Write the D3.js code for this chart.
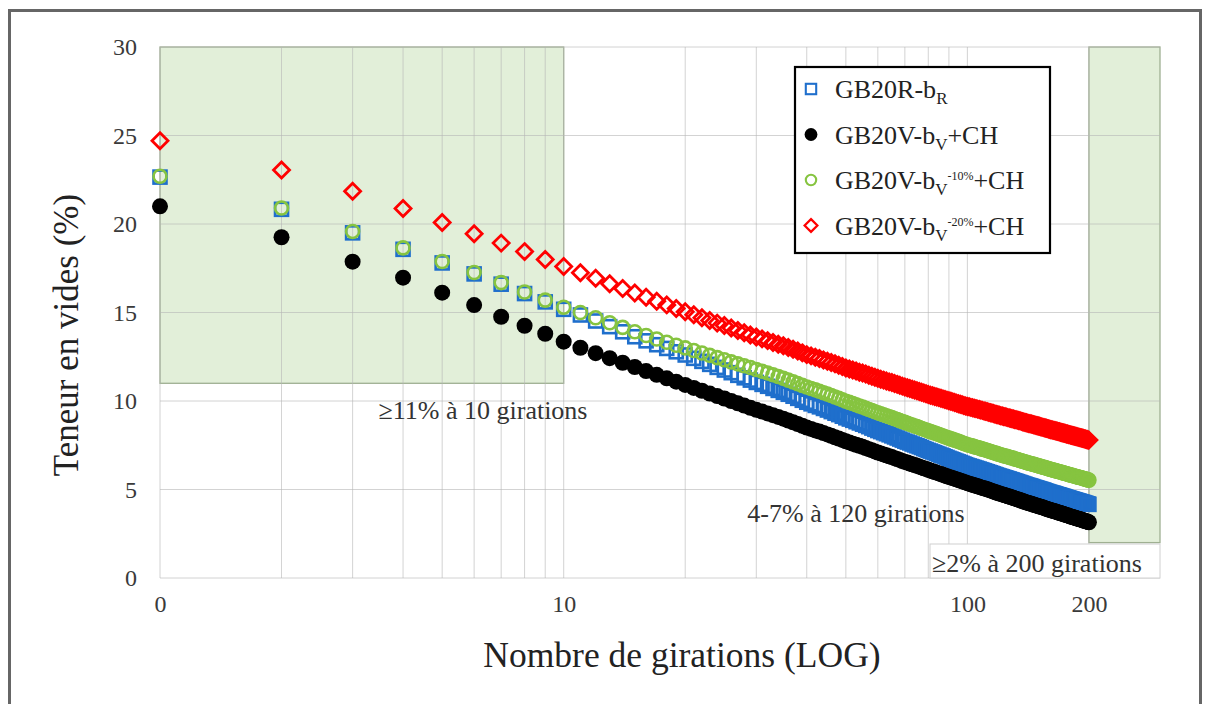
<!DOCTYPE html>
<html>
<head>
<meta charset="utf-8">
<script src="https://cdn.jsdelivr.net/npm/d3@7"></script>
<style>
  body { margin: 0; background: #fff; }
  svg { display: block; }
  svg text { font-family: "Liberation Serif", "Times New Roman", serif !important; }
</style>
</head>
<body>
<svg id="chart" width="1206" height="704"></svg>
<script>
// Gyration counts 1..200 (one point per gyration)
const girations = d3.range(1, 201);

// Void content (%) per gyration, one array per mix
const gbR = [
  22.65, 20.83, 19.50, 18.57, 17.80, 17.18, 16.60, 16.07, 15.60, 15.18,
  14.86, 14.52, 14.20, 13.91, 13.63, 13.40, 13.18, 12.97, 12.78, 12.60,
  12.41, 12.24, 12.07, 11.90, 11.75, 11.60, 11.45, 11.31, 11.18, 11.05,
  10.94, 10.83, 10.71, 10.60, 10.49, 10.38, 10.27, 10.15, 10.04, 9.93,
  9.84, 9.75, 9.67, 9.58, 9.49, 9.40, 9.31, 9.23, 9.14, 9.05,
  8.98, 8.91, 8.83, 8.76, 8.69, 8.62, 8.55, 8.47, 8.40, 8.33,
  8.27, 8.21, 8.15, 8.09, 8.03, 7.97, 7.91, 7.85, 7.79, 7.73,
  7.68, 7.63, 7.57, 7.52, 7.47, 7.42, 7.37, 7.31, 7.26, 7.21,
  7.17, 7.12, 7.08, 7.03, 6.99, 6.94, 6.90, 6.85, 6.81, 6.76,
  6.72, 6.68, 6.64, 6.60, 6.56, 6.52, 6.48, 6.44, 6.40, 6.36,
  6.33, 6.30, 6.27, 6.24, 6.21, 6.18, 6.15, 6.12, 6.09, 6.06,
  6.03, 6.00, 5.97, 5.94, 5.91, 5.88, 5.85, 5.82, 5.79, 5.76,
  5.74, 5.71, 5.69, 5.66, 5.64, 5.61, 5.59, 5.56, 5.54, 5.51,
  5.49, 5.46, 5.44, 5.41, 5.39, 5.36, 5.34, 5.31, 5.29, 5.26,
  5.24, 5.22, 5.20, 5.18, 5.16, 5.13, 5.11, 5.09, 5.07, 5.05,
  5.03, 5.01, 4.99, 4.97, 4.95, 4.92, 4.90, 4.88, 4.86, 4.84,
  4.82, 4.80, 4.79, 4.77, 4.75, 4.73, 4.71, 4.70, 4.68, 4.66,
  4.64, 4.62, 4.61, 4.59, 4.57, 4.55, 4.53, 4.52, 4.50, 4.48,
  4.46, 4.45, 4.43, 4.42, 4.40, 4.38, 4.37, 4.35, 4.34, 4.32,
  4.30, 4.29, 4.27, 4.26, 4.24, 4.22, 4.21, 4.19, 4.18, 4.16
];

const gbV = [
  21.00, 19.25, 17.87, 16.97, 16.12, 15.42, 14.76, 14.25, 13.80, 13.35,
  13.01, 12.70, 12.42, 12.16, 11.92, 11.69, 11.48, 11.28, 11.09, 10.91,
  10.74, 10.58, 10.42, 10.28, 10.14, 10.00, 9.87, 9.74, 9.62, 9.50,
  9.40, 9.30, 9.20, 9.10, 9.00, 8.90, 8.80, 8.70, 8.60, 8.50,
  8.42, 8.34, 8.27, 8.19, 8.11, 8.03, 7.95, 7.88, 7.80, 7.72,
  7.66, 7.59, 7.53, 7.47, 7.41, 7.34, 7.28, 7.22, 7.15, 7.09,
  7.04, 6.98, 6.93, 6.88, 6.83, 6.77, 6.72, 6.67, 6.61, 6.56,
  6.52, 6.47, 6.42, 6.38, 6.34, 6.29, 6.25, 6.20, 6.16, 6.11,
  6.07, 6.03, 5.99, 5.95, 5.91, 5.87, 5.83, 5.79, 5.75, 5.71,
  5.68, 5.64, 5.61, 5.57, 5.54, 5.50, 5.47, 5.43, 5.40, 5.36,
  5.33, 5.30, 5.27, 5.24, 5.21, 5.18, 5.15, 5.12, 5.09, 5.07,
  5.04, 5.01, 4.98, 4.95, 4.92, 4.89, 4.86, 4.83, 4.80, 4.77,
  4.75, 4.72, 4.70, 4.67, 4.65, 4.62, 4.60, 4.57, 4.55, 4.52,
  4.50, 4.47, 4.45, 4.42, 4.40, 4.37, 4.35, 4.32, 4.30, 4.27,
  4.25, 4.23, 4.21, 4.19, 4.17, 4.14, 4.12, 4.10, 4.08, 4.06,
  4.04, 4.02, 4.00, 3.98, 3.96, 3.93, 3.91, 3.89, 3.87, 3.85,
  3.83, 3.81, 3.79, 3.78, 3.76, 3.74, 3.72, 3.70, 3.68, 3.67,
  3.65, 3.63, 3.61, 3.59, 3.57, 3.55, 3.54, 3.52, 3.50, 3.48,
  3.46, 3.45, 3.43, 3.41, 3.40, 3.38, 3.36, 3.35, 3.33, 3.32,
  3.30, 3.28, 3.27, 3.25, 3.23, 3.22, 3.20, 3.18, 3.17, 3.15
];

const gbV10 = [
  22.70, 20.90, 19.58, 18.65, 17.88, 17.26, 16.69, 16.16, 15.70, 15.30,
  15.00, 14.70, 14.42, 14.16, 13.91, 13.70, 13.50, 13.32, 13.15, 13.00,
  12.85, 12.71, 12.58, 12.45, 12.33, 12.21, 12.10, 11.99, 11.89, 11.78,
  11.68, 11.58, 11.48, 11.38, 11.28, 11.18, 11.08, 10.98, 10.88, 10.79,
  10.71, 10.63, 10.55, 10.47, 10.39, 10.31, 10.23, 10.15, 10.07, 9.99,
  9.92, 9.86, 9.79, 9.72, 9.66, 9.59, 9.52, 9.46, 9.39, 9.33,
  9.28, 9.22, 9.17, 9.11, 9.06, 9.00, 8.95, 8.89, 8.84, 8.79,
  8.74, 8.69, 8.64, 8.59, 8.55, 8.50, 8.45, 8.40, 8.36, 8.31,
  8.27, 8.23, 8.19, 8.15, 8.11, 8.06, 8.02, 7.98, 7.94, 7.90,
  7.86, 7.83, 7.79, 7.75, 7.72, 7.68, 7.64, 7.60, 7.57, 7.53,
  7.50, 7.48, 7.45, 7.42, 7.39, 7.37, 7.34, 7.31, 7.28, 7.26,
  7.23, 7.20, 7.17, 7.15, 7.12, 7.09, 7.06, 7.04, 7.01, 6.98,
  6.96, 6.93, 6.91, 6.89, 6.87, 6.85, 6.82, 6.80, 6.78, 6.76,
  6.73, 6.71, 6.69, 6.67, 6.64, 6.62, 6.60, 6.58, 6.55, 6.53,
  6.51, 6.49, 6.47, 6.45, 6.44, 6.42, 6.40, 6.38, 6.36, 6.34,
  6.32, 6.30, 6.28, 6.26, 6.25, 6.23, 6.21, 6.19, 6.17, 6.15,
  6.13, 6.12, 6.10, 6.08, 6.07, 6.05, 6.03, 6.02, 6.00, 5.99,
  5.97, 5.95, 5.94, 5.92, 5.90, 5.89, 5.87, 5.85, 5.84, 5.82,
  5.81, 5.79, 5.78, 5.76, 5.75, 5.73, 5.72, 5.70, 5.69, 5.68,
  5.66, 5.65, 5.63, 5.62, 5.60, 5.59, 5.57, 5.56, 5.54, 5.53
];

const gbV20 = [
  24.70, 23.05, 21.85, 20.88, 20.08, 19.45, 18.92, 18.44, 18.00, 17.60,
  17.25, 16.93, 16.63, 16.36, 16.10, 15.86, 15.64, 15.43, 15.23, 15.04,
  14.87, 14.70, 14.55, 14.40, 14.26, 14.12, 13.98, 13.86, 13.73, 13.61,
  13.51, 13.41, 13.31, 13.21, 13.12, 13.02, 12.92, 12.82, 12.72, 12.62,
  12.55, 12.47, 12.40, 12.32, 12.25, 12.17, 12.10, 12.02, 11.95, 11.87,
  11.81, 11.75, 11.69, 11.63, 11.58, 11.52, 11.46, 11.40, 11.34, 11.28,
  11.23, 11.18, 11.13, 11.08, 11.04, 10.99, 10.94, 10.89, 10.84, 10.79,
  10.75, 10.71, 10.66, 10.62, 10.58, 10.54, 10.50, 10.45, 10.41, 10.37,
  10.33, 10.30, 10.26, 10.23, 10.19, 10.15, 10.12, 10.08, 10.05, 10.01,
  9.98, 9.95, 9.91, 9.88, 9.85, 9.82, 9.79, 9.75, 9.72, 9.69,
  9.67, 9.64, 9.62, 9.59, 9.57, 9.54, 9.52, 9.49, 9.47, 9.44,
  9.42, 9.39, 9.37, 9.34, 9.32, 9.29, 9.27, 9.24, 9.22, 9.19,
  9.17, 9.15, 9.13, 9.11, 9.09, 9.06, 9.04, 9.02, 9.00, 8.98,
  8.96, 8.94, 8.92, 8.90, 8.88, 8.85, 8.83, 8.81, 8.79, 8.77,
  8.75, 8.73, 8.71, 8.70, 8.68, 8.66, 8.64, 8.62, 8.60, 8.59,
  8.57, 8.55, 8.53, 8.51, 8.49, 8.47, 8.46, 8.44, 8.42, 8.40,
  8.38, 8.37, 8.35, 8.34, 8.32, 8.30, 8.29, 8.27, 8.26, 8.24,
  8.22, 8.21, 8.19, 8.18, 8.16, 8.14, 8.13, 8.11, 8.10, 8.08,
  8.07, 8.05, 8.04, 8.02, 8.01, 7.99, 7.98, 7.96, 7.95, 7.93,
  7.92, 7.91, 7.89, 7.88, 7.86, 7.85, 7.83, 7.82, 7.80, 7.79
];

// Axis ticks
const xTickValues = [1, 10, 100, 200];
const xTickLabels = ["0", "10", "100", "200"];
const xGridValues = [1, 2, 3, 4, 5, 6, 7, 8, 9, 10, 20, 30, 40, 50, 60, 70, 80, 90, 100, 200];
const yTickValues = [0, 5, 10, 15, 20, 25, 30];

// Specification windows: [from gyrations, to gyrations, min void, max void]
const specZones = [[1, 10, 11, 30], [200, 300, 2, 30]];

const FONT = "Liberation Serif";
const svg = d3.select("#chart");
const x = d3.scaleLog().domain([1, 300]).range([160, 1160]);
const y = d3.scaleLinear().domain([0, 30]).range([578, 47]);

// Specification zones (green)
svg.append("g").selectAll("rect").data(specZones).join("rect")
  .attr("x", d => x(d[0])).attr("y", d => y(d[3]))
  .attr("width", d => x(d[1]) - x(d[0])).attr("height", d => y(d[2]) - y(d[3]))
  .attr("fill", "#e2efd9").attr("stroke", "#9fb092").attr("stroke-width", 1.3);

// Gridlines
const grid = svg.append("g").attr("stroke", "#b5b5b5").attr("stroke-opacity", 0.6).attr("stroke-width", 1);
grid.selectAll("line.v").data(xGridValues).join("line").attr("class", "v")
  .attr("x1", d => x(d)).attr("x2", d => x(d)).attr("y1", y(30)).attr("y2", y(0));
grid.selectAll("line.h").data(yTickValues).join("line").attr("class", "h")
  .attr("x1", x(1)).attr("x2", x(300)).attr("y1", d => y(d)).attr("y2", d => y(d));

// Axes (labels only, Excel-style)
const xAxis = d3.axisBottom(x).tickValues(xTickValues)
  .tickFormat((d, i) => xTickLabels[i]).tickSize(0).tickPadding(17);
svg.append("g").attr("transform", `translate(0,${y(0)})`).call(xAxis)
  .attr("font-family", FONT)
  .call(g => g.select(".domain").remove())
  .call(g => g.selectAll("text").attr("font-size", 24).attr("fill", "#3a3a3a"));

const yAxis = d3.axisLeft(y).tickValues(yTickValues).tickSize(0).tickPadding(23);
svg.append("g").attr("transform", `translate(${x(1)},0)`).call(yAxis)
  .attr("font-family", FONT)
  .call(g => g.select(".domain").remove())
  .call(g => g.selectAll("text").attr("font-size", 24).attr("fill", "#3a3a3a"));

// Series
const series = [
  { name: "gbR", values: gbR, shape: "square", color: "#1f6fcc" },
  { name: "gbV", values: gbV, shape: "dot", color: "#000000" },
  { name: "gbV10", values: gbV10, shape: "circle", color: "#86c440" },
  { name: "gbV20", values: gbV20, shape: "diamond", color: "#ff0000" }
];

function drawMarker(sel, shape, color, k = 1) {
  if (shape === "square") {
    sel.append("rect").attr("x", -6.5 * k).attr("y", -6.5 * k).attr("width", 13 * k).attr("height", 13 * k)
      .attr("fill", "none").attr("stroke", color).attr("stroke-width", 2.6 * k);
  } else if (shape === "dot") {
    sel.append("circle").attr("r", 8 * k).attr("fill", color);
  } else if (shape === "circle") {
    sel.append("circle").attr("r", 6.5 * k).attr("fill", "none").attr("stroke", color).attr("stroke-width", 2.6 * k);
  } else {
    const h = 8 * k;
    sel.append("path").attr("d", `M0,${-h}L${h},0L0,${h}L${-h},0Z`)
      .attr("fill", "none").attr("stroke", color).attr("stroke-width", 2.8 * k);
  }
}

series.forEach(s => {
  const g = svg.append("g").attr("class", "series " + s.name);
  g.selectAll("g").data(girations).join("g")
    .attr("transform", (d, i) => `translate(${x(d)},${y(s.values[i])})`)
    .each(function () { drawMarker(d3.select(this), s.shape, s.color); });
});

// Annotations
const ann = svg.append("g").attr("fill", "#333").attr("font-size", 26).attr("font-family", FONT);
ann.append("text").attr("x", 483).attr("y", 419).attr("text-anchor", "middle").text("≥11% à 10 girations");
ann.append("text").attr("x", 856).attr("y", 522).attr("text-anchor", "middle").text("4-7% à 120 girations");
ann.append("rect").attr("x", 930).attr("y", 544).attr("width", 230).attr("height", 34)
  .attr("fill", "#fff").attr("stroke", "#d0d0d0");
ann.append("text").attr("x", 1037).attr("y", 572).attr("text-anchor", "middle").text("≥2% à 200 girations");

// Legend
const legend = svg.append("g").attr("transform", "translate(795,67)").attr("font-family", FONT);
legend.append("rect").attr("width", 255).attr("height", 186).attr("fill", "#fff")
  .attr("stroke", "#000").attr("stroke-width", 2.2);
const legendRows = [
  { shape: "square", color: "#1f6fcc", parts: [["GB20R-b", 0, 26], ["R", 6, 17]] },
  { shape: "dot", color: "#000", parts: [["GB20V-b", 0, 26], ["V", 6, 17], ["+CH", -6, 26]] },
  { shape: "circle", color: "#86c440", parts: [["GB20V-b", 0, 26], ["V", 6, 17], ["-10%", -15, 12], ["+CH", 9, 26]] },
  { shape: "diamond", color: "#ff0000", parts: [["GB20V-b", 0, 26], ["V", 6, 17], ["-20%", -15, 12], ["+CH", 9, 26]] }
];
legendRows.forEach((r, i) => {
  const row = legend.append("g").attr("transform", `translate(16,${22 + i * 45.5})`);
  drawMarker(row.append("g"), r.shape, r.color, 0.8);
  const t = row.append("text").attr("x", 24).attr("y", 9).attr("fill", "#222");
  r.parts.forEach(p => t.append("tspan").attr("dy", p[1]).attr("font-size", p[2]).text(p[0]));
});

// Axis titles
svg.append("text").attr("x", 682).attr("y", 667).attr("text-anchor", "middle")
  .attr("font-family", FONT).attr("font-size", 35.5).attr("fill", "#222").text("Nombre de girations (LOG)");
svg.append("text").attr("transform", "translate(78,335) rotate(-90)").attr("text-anchor", "middle")
  .attr("font-family", FONT).attr("font-size", 35).attr("fill", "#222").text("Teneur en vides (%)");

// Outer frame
svg.append("rect").attr("x", 9.5).attr("y", 10.5).attr("width", 1191).attr("height", 720)
  .attr("fill", "none").attr("stroke", "#666").attr("stroke-width", 3);
</script>
</body>
</html>
